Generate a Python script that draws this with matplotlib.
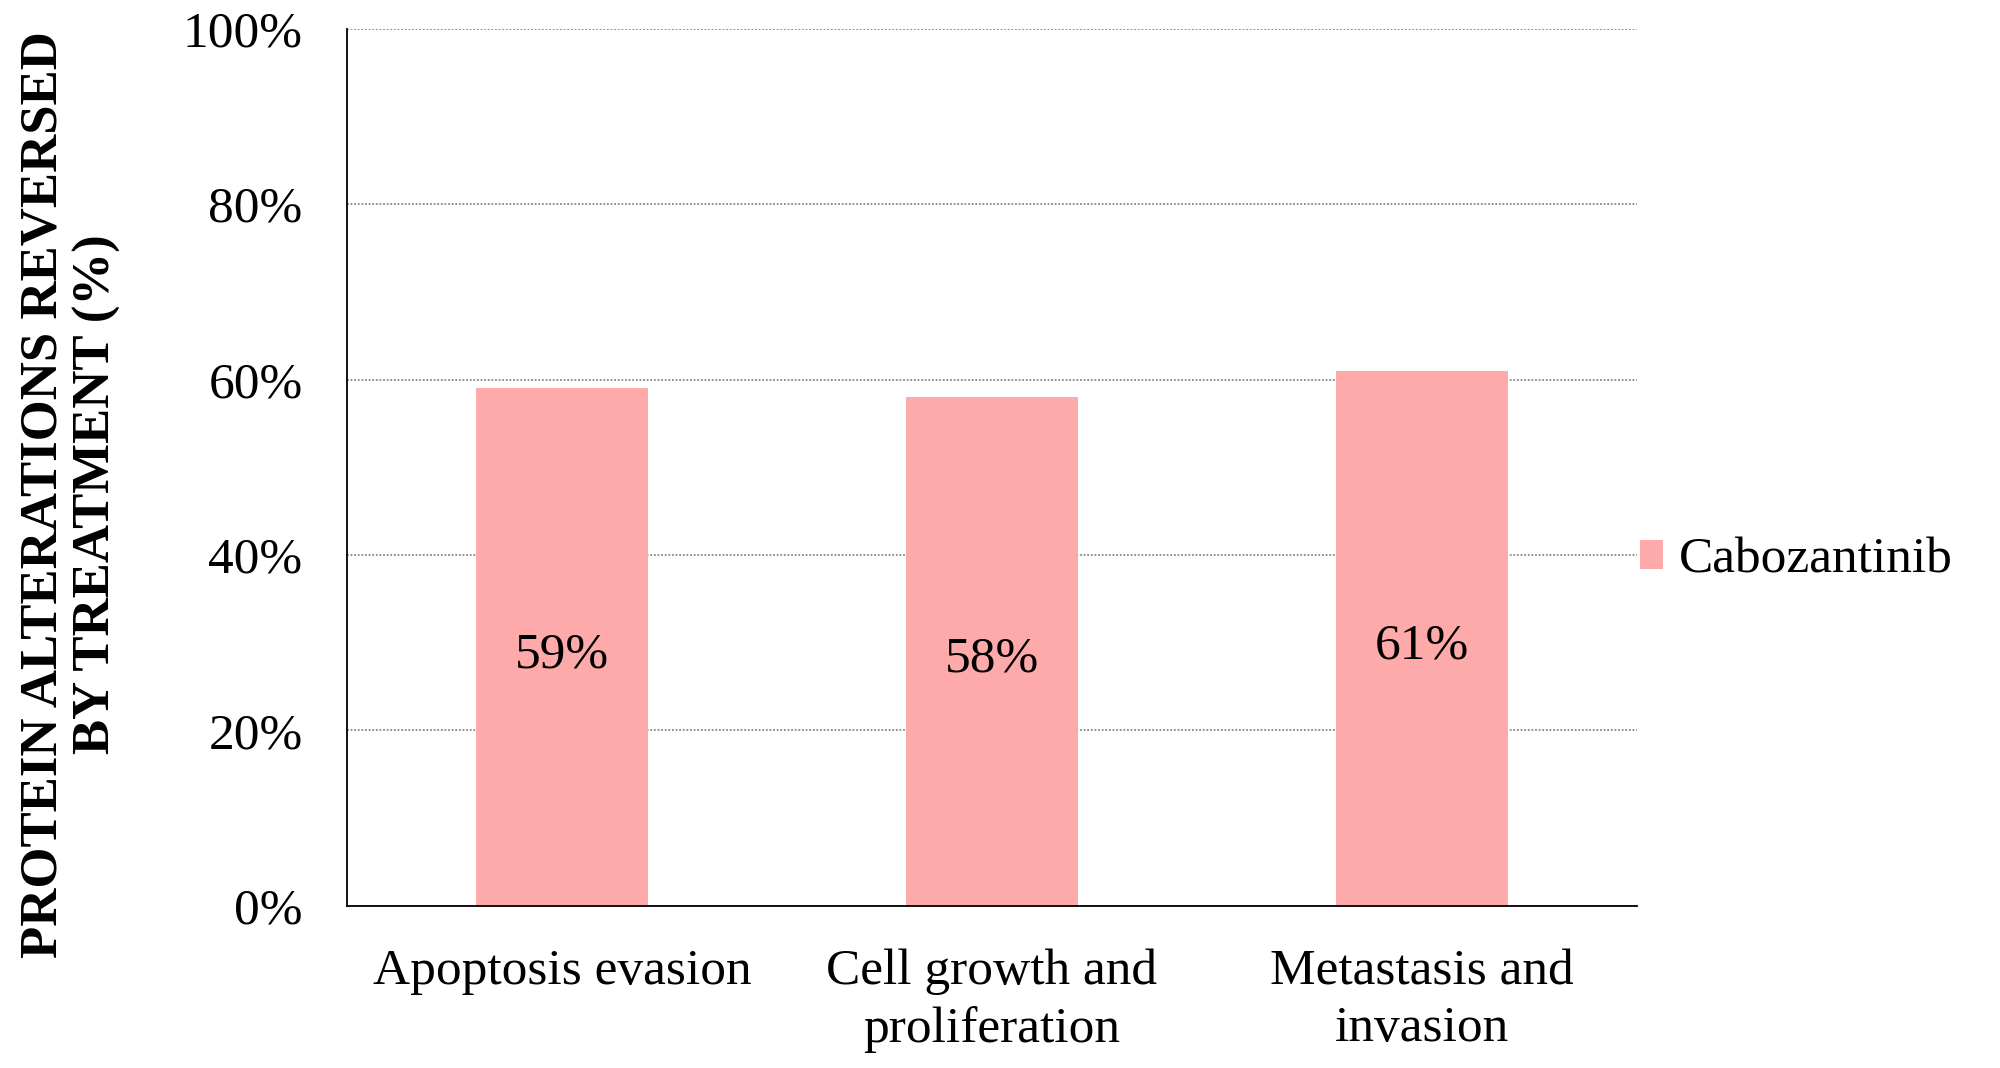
import matplotlib
matplotlib.use('Agg')
import matplotlib.pyplot as plt
import numpy as np

# data
categories = ['Apoptosis evasion', 'Cell growth and\nproliferation', 'Metastasis and\ninvasion']
values = [59, 58, 61]
series_name = 'Cabozantinib'
yticks = [0, 20, 40, 60, 80, 100]

plt.rcParams['font.family'] = ['Liberation Serif', 'DejaVu Serif']

fig = plt.figure(figsize=(20, 10.68), dpi=100)
ax = fig.add_axes([0.1735, 0.152, 0.645, 0.821])

x = np.arange(len(categories))
bars = ax.bar(x, values, width=0.4, color='#FFAAAA', label=series_name, zorder=2)

# value labels in the middle of each bar
for b, v in zip(bars, values):
    ax.annotate(f'{v}%', (b.get_x() + b.get_width() / 2, v / 2),
                xytext=(0, -6), textcoords='offset points',
                ha='center', va='center', fontsize=37, zorder=3)

ax.set_xlim(-0.5, len(categories) - 0.5)
ax.set_ylim(0, 100)
ax.set_yticks(yticks)
ax.set_yticklabels([f'{t}%' for t in yticks], fontsize=37)
ax.set_xticks(x)
ax.set_xticklabels(categories, fontsize=37, linespacing=1.3)
ax.tick_params(axis='both', length=0)
ax.tick_params(axis='x', pad=31)
ax.tick_params(axis='y', pad=32)

ax.grid(axis='y', linestyle=(0, (1, 1)), color='#888888', linewidth=1.3, zorder=0)
for s in ['top', 'right']:
    ax.spines[s].set_visible(False)
ax.spines['left'].set_linewidth(1.3)
ax.spines['bottom'].set_linewidth(1.3)

fig.text(0.035, 0.537, 'PROTEIN ALTERATIONS REVERSED\nBY TREATMENT (%)',
         rotation=90, ha='center', va='center', fontsize=38,
         fontweight='bold', linespacing=1.15)

fig.legend(loc='center left', bbox_to_anchor=(0.797, 0.475), frameon=False,
           fontsize=37, handlelength=0.45, handleheight=0.5, handletextpad=0.3)

fig.savefig('out.png', dpi=100)
